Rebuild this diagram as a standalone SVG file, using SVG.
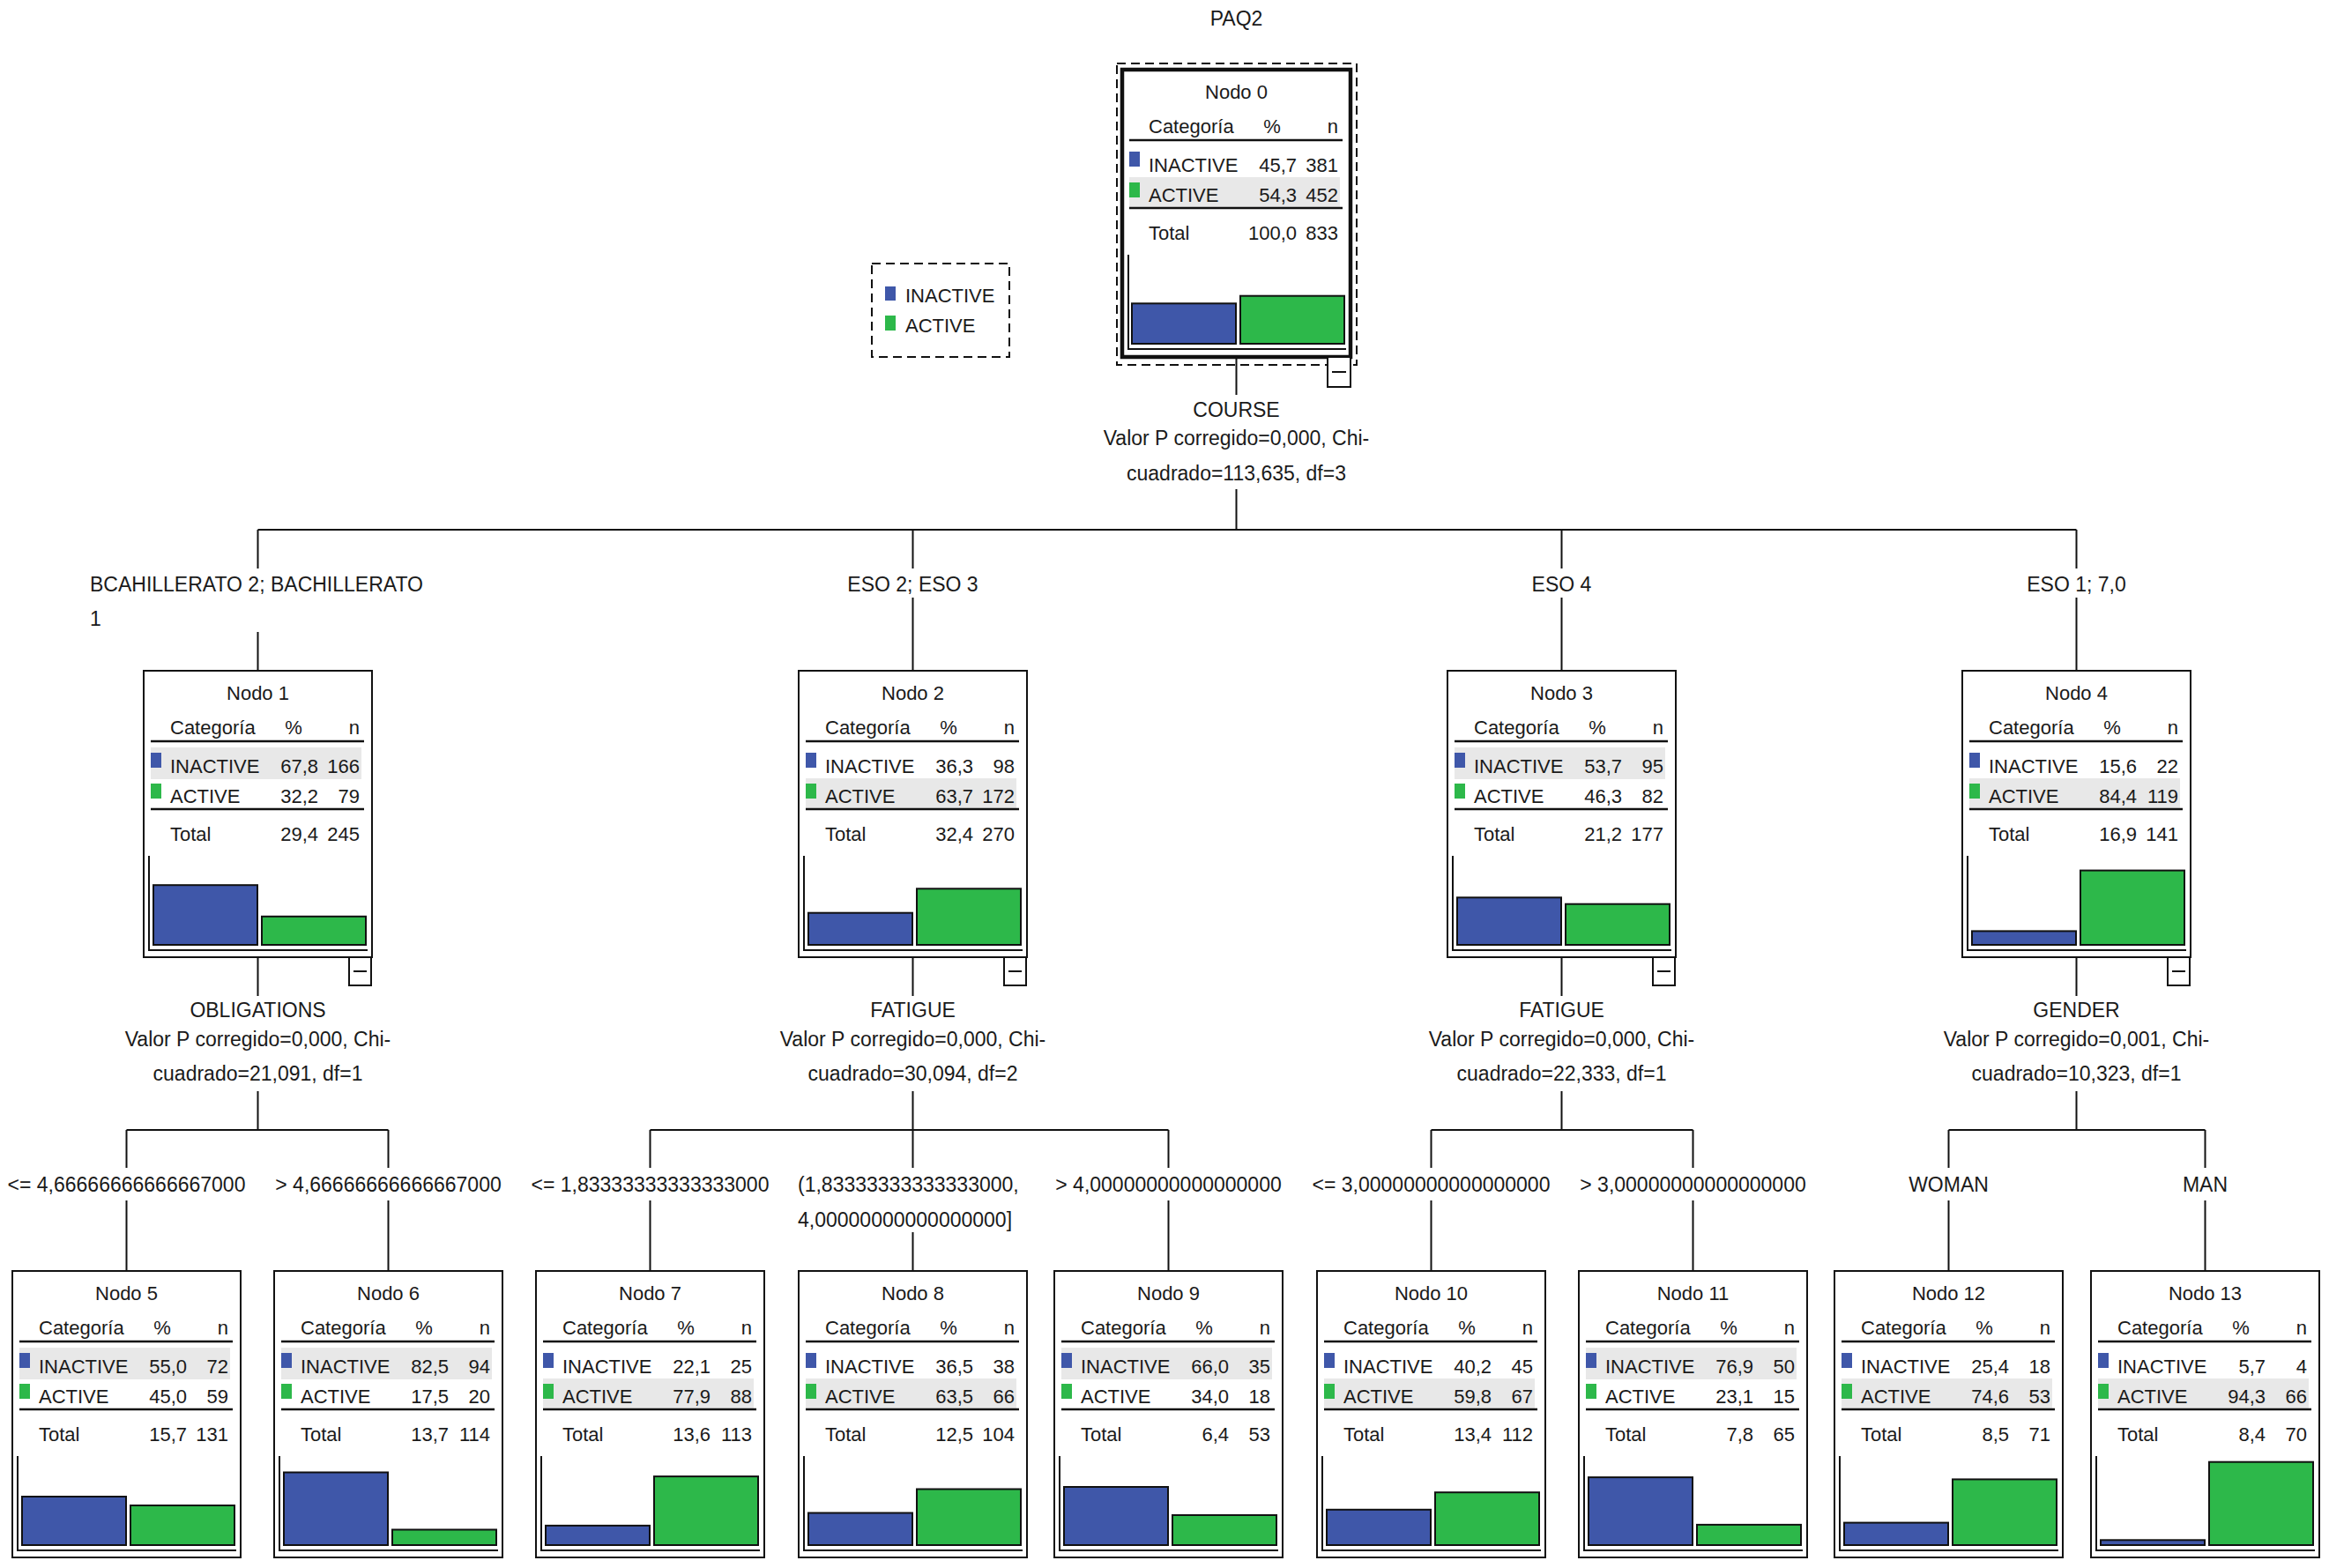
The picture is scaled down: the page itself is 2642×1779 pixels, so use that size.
<svg xmlns="http://www.w3.org/2000/svg" width="2642" height="1779" viewBox="0 0 2642 1779">
<style>
text{font-family:"Liberation Sans",Arial,sans-serif;font-size:22px;fill:#1a1a1a}
.l{font-size:23px}
.m{text-anchor:middle}
.e{text-anchor:end}
.box{fill:#fff;stroke:#111;stroke-width:2}
.rootbox{fill:#fff;stroke:#111;stroke-width:4.5}
.hl{stroke:#111;stroke-width:2.5}
.hi{fill:#e8e8e8}
.sqb{fill:#3f57a9}
.sqg{fill:#2db84a}
.ax{fill:none;stroke:#111;stroke-width:2}
.bb{fill:#3f57a9;stroke:#111;stroke-width:2}
.bg{fill:#2db84a;stroke:#111;stroke-width:2}
.cb{fill:#fff;stroke:#111;stroke-width:2}
.mn{stroke:#111;stroke-width:2}
.dash{fill:none;stroke:#111;stroke-width:2;stroke-dasharray:10 6}
.c line{stroke:#111;stroke-width:2}
</style>
<rect width="2642" height="1779" fill="#fff"/>
<text class="l m" x="1402.5" y="29">PAQ2</text>

<g id="legend">
<rect class="dash" x="989" y="299" width="156" height="106"/>
<rect class="sqb" x="1004" y="325" width="12" height="16"/>
<text x="1027" y="343">INACTIVE</text>
<rect class="sqg" x="1004" y="358" width="12" height="17"/>
<text x="1027" y="377">ACTIVE</text>
</g>

<g id="connectors" class="c">
<line x1="1402.5" y1="405" x2="1402.5" y2="448"/>
<line x1="1402.5" y1="555" x2="1402.5" y2="601"/>
<line x1="292.5" y1="601" x2="2355.5" y2="601"/>
<line x1="292.5" y1="601" x2="292.5" y2="645"/>
<line x1="292.5" y1="717" x2="292.5" y2="761"/>
<line x1="1035.5" y1="601" x2="1035.5" y2="645"/>
<line x1="1035.5" y1="678" x2="1035.5" y2="761"/>
<line x1="1771.5" y1="601" x2="1771.5" y2="645"/>
<line x1="1771.5" y1="678" x2="1771.5" y2="761"/>
<line x1="2355.5" y1="601" x2="2355.5" y2="645"/>
<line x1="2355.5" y1="678" x2="2355.5" y2="761"/>
<line x1="292.5" y1="1086" x2="292.5" y2="1130"/>
<line x1="292.5" y1="1238" x2="292.5" y2="1282"/>
<line x1="1035.5" y1="1086" x2="1035.5" y2="1130"/>
<line x1="1035.5" y1="1238" x2="1035.5" y2="1282"/>
<line x1="1771.5" y1="1086" x2="1771.5" y2="1130"/>
<line x1="1771.5" y1="1238" x2="1771.5" y2="1282"/>
<line x1="2355.5" y1="1086" x2="2355.5" y2="1130"/>
<line x1="2355.5" y1="1238" x2="2355.5" y2="1282"/>
<line x1="143.5" y1="1282" x2="440.5" y2="1282"/>
<line x1="737.5" y1="1282" x2="1325.5" y2="1282"/>
<line x1="1623.5" y1="1282" x2="1920.5" y2="1282"/>
<line x1="2210.5" y1="1282" x2="2501.5" y2="1282"/>
<line x1="143.5" y1="1282" x2="143.5" y2="1325"/><line x1="143.5" y1="1362" x2="143.5" y2="1442"/>
<line x1="440.5" y1="1282" x2="440.5" y2="1325"/><line x1="440.5" y1="1362" x2="440.5" y2="1442"/>
<line x1="737.5" y1="1282" x2="737.5" y2="1325"/><line x1="737.5" y1="1362" x2="737.5" y2="1442"/>
<line x1="1035.5" y1="1282" x2="1035.5" y2="1325"/><line x1="1035.5" y1="1398" x2="1035.5" y2="1442"/>
<line x1="1325.5" y1="1282" x2="1325.5" y2="1325"/><line x1="1325.5" y1="1362" x2="1325.5" y2="1442"/>
<line x1="1623.5" y1="1282" x2="1623.5" y2="1325"/><line x1="1623.5" y1="1362" x2="1623.5" y2="1442"/>
<line x1="1920.5" y1="1282" x2="1920.5" y2="1325"/><line x1="1920.5" y1="1362" x2="1920.5" y2="1442"/>
<line x1="2210.5" y1="1282" x2="2210.5" y2="1325"/><line x1="2210.5" y1="1362" x2="2210.5" y2="1442"/>
<line x1="2501.5" y1="1282" x2="2501.5" y2="1325"/><line x1="2501.5" y1="1362" x2="2501.5" y2="1442"/>
</g>

<g id="labels">
<text class="l m" x="1402.5" y="473">COURSE</text>
<text class="l m" x="1402.5" y="505">Valor P corregido=0,000, Chi-</text>
<text class="l m" x="1402.5" y="545">cuadrado=113,635, df=3</text>
<text class="l" x="102" y="671">BCAHILLERATO 2; BACHILLERATO</text>
<text class="l" x="102" y="710">1</text>
<text class="l m" x="1035.5" y="671">ESO 2; ESO 3</text>
<text class="l m" x="1771.5" y="671">ESO 4</text>
<text class="l m" x="2355.5" y="671">ESO 1; 7,0</text>
<text class="l m" x="292.5" y="1154">OBLIGATIONS</text>
<text class="l m" x="292.5" y="1187">Valor P corregido=0,000, Chi-</text>
<text class="l m" x="292.5" y="1226">cuadrado=21,091, df=1</text>
<text class="l m" x="1035.5" y="1154">FATIGUE</text>
<text class="l m" x="1035.5" y="1187">Valor P corregido=0,000, Chi-</text>
<text class="l m" x="1035.5" y="1226">cuadrado=30,094, df=2</text>
<text class="l m" x="1771.5" y="1154">FATIGUE</text>
<text class="l m" x="1771.5" y="1187">Valor P corregido=0,000, Chi-</text>
<text class="l m" x="1771.5" y="1226">cuadrado=22,333, df=1</text>
<text class="l m" x="2355.5" y="1154">GENDER</text>
<text class="l m" x="2355.5" y="1187">Valor P corregido=0,001, Chi-</text>
<text class="l m" x="2355.5" y="1226">cuadrado=10,323, df=1</text>
<text class="l m" x="143.5" y="1352">&lt;= 4,66666666666667000</text>
<text class="l m" x="440.5" y="1352">&gt; 4,66666666666667000</text>
<text class="l m" x="737.5" y="1352">&lt;= 1,83333333333333000</text>
<text class="l" x="905" y="1352">(1,83333333333333000,</text>
<text class="l" x="905" y="1392">4,00000000000000000]</text>
<text class="l m" x="1325.5" y="1352">&gt; 4,00000000000000000</text>
<text class="l m" x="1623.5" y="1352">&lt;= 3,00000000000000000</text>
<text class="l m" x="1920.5" y="1352">&gt; 3,00000000000000000</text>
<text class="l m" x="2210.5" y="1352">WOMAN</text>
<text class="l m" x="2501.5" y="1352">MAN</text>
</g>

<g id="node0" transform="translate(1273,79)">
<rect class="dash" x="-6" y="-7" width="272" height="342"/>
<rect class="rootbox" x="0" y="0" width="259" height="326"/>
<text class="m" x="129.5" y="33">Nodo 0</text>
<text x="30" y="72">Categoría</text><text class="m" x="170" y="72">%</text><text class="e" x="245" y="72">n</text>
<line class="hl" x1="8" y1="80" x2="250" y2="80"/>
<rect class="hi" x="8" y="122" width="239" height="34"/>
<rect class="sqb" x="8" y="93" width="12" height="17"/>
<text x="30" y="116">INACTIVE</text><text class="e" x="198" y="116">45,7</text><text class="e" x="245" y="116">381</text>
<rect class="sqg" x="8" y="128" width="12" height="17"/>
<text x="30" y="150">ACTIVE</text><text class="e" x="198" y="150">54,3</text><text class="e" x="245" y="150">452</text>
<line class="hl" x1="8" y1="157" x2="250" y2="157"/>
<text x="30" y="193">Total</text><text class="e" x="198" y="193">100,0</text><text class="e" x="245" y="193">833</text>
<path class="ax" d="M7,210 V317 H254"/>
<rect class="bb" x="11" y="265.3" width="118" height="45.7"/>
<rect class="bg" x="134" y="256.7" width="118" height="54.3"/>
<rect class="cb" x="233" y="326" width="26" height="34"/><line class="mn" x1="238" y1="343" x2="254" y2="343"/>
</g>

<g id="node1" transform="translate(163,761)">
<rect class="box" x="0" y="0" width="259" height="325"/>
<text class="m" x="129.5" y="33">Nodo 1</text>
<text x="30" y="72">Categoría</text><text class="m" x="170" y="72">%</text><text class="e" x="245" y="72">n</text>
<line class="hl" x1="8" y1="80" x2="250" y2="80"/>
<rect class="hi" x="8" y="87" width="239" height="36"/>
<rect class="sqb" x="8" y="93" width="12" height="17"/>
<text x="30" y="116">INACTIVE</text><text class="e" x="198" y="116">67,8</text><text class="e" x="245" y="116">166</text>
<rect class="sqg" x="8" y="128" width="12" height="17"/>
<text x="30" y="150">ACTIVE</text><text class="e" x="198" y="150">32,2</text><text class="e" x="245" y="150">79</text>
<line class="hl" x1="8" y1="157" x2="250" y2="157"/>
<text x="30" y="193">Total</text><text class="e" x="198" y="193">29,4</text><text class="e" x="245" y="193">245</text>
<path class="ax" d="M6,210 V317 H254"/>
<rect class="bb" x="11" y="243.2" width="118" height="67.8"/>
<rect class="bg" x="134" y="278.8" width="118" height="32.2"/>
<rect class="cb" x="233" y="325" width="25" height="32"/><line class="mn" x1="238" y1="341" x2="253" y2="341"/>
</g>

<g id="node2" transform="translate(906,761)">
<rect class="box" x="0" y="0" width="259" height="325"/>
<text class="m" x="129.5" y="33">Nodo 2</text>
<text x="30" y="72">Categoría</text><text class="m" x="170" y="72">%</text><text class="e" x="245" y="72">n</text>
<line class="hl" x1="8" y1="80" x2="250" y2="80"/>
<rect class="hi" x="8" y="122" width="239" height="34"/>
<rect class="sqb" x="8" y="93" width="12" height="17"/>
<text x="30" y="116">INACTIVE</text><text class="e" x="198" y="116">36,3</text><text class="e" x="245" y="116">98</text>
<rect class="sqg" x="8" y="128" width="12" height="17"/>
<text x="30" y="150">ACTIVE</text><text class="e" x="198" y="150">63,7</text><text class="e" x="245" y="150">172</text>
<line class="hl" x1="8" y1="157" x2="250" y2="157"/>
<text x="30" y="193">Total</text><text class="e" x="198" y="193">32,4</text><text class="e" x="245" y="193">270</text>
<path class="ax" d="M6,210 V317 H254"/>
<rect class="bb" x="11" y="274.7" width="118" height="36.3"/>
<rect class="bg" x="134" y="247.3" width="118" height="63.7"/>
<rect class="cb" x="233" y="325" width="25" height="32"/><line class="mn" x1="238" y1="341" x2="253" y2="341"/>
</g>

<g id="node3" transform="translate(1642,761)">
<rect class="box" x="0" y="0" width="259" height="325"/>
<text class="m" x="129.5" y="33">Nodo 3</text>
<text x="30" y="72">Categoría</text><text class="m" x="170" y="72">%</text><text class="e" x="245" y="72">n</text>
<line class="hl" x1="8" y1="80" x2="250" y2="80"/>
<rect class="hi" x="8" y="87" width="239" height="36"/>
<rect class="sqb" x="8" y="93" width="12" height="17"/>
<text x="30" y="116">INACTIVE</text><text class="e" x="198" y="116">53,7</text><text class="e" x="245" y="116">95</text>
<rect class="sqg" x="8" y="128" width="12" height="17"/>
<text x="30" y="150">ACTIVE</text><text class="e" x="198" y="150">46,3</text><text class="e" x="245" y="150">82</text>
<line class="hl" x1="8" y1="157" x2="250" y2="157"/>
<text x="30" y="193">Total</text><text class="e" x="198" y="193">21,2</text><text class="e" x="245" y="193">177</text>
<path class="ax" d="M6,210 V317 H254"/>
<rect class="bb" x="11" y="257.3" width="118" height="53.7"/>
<rect class="bg" x="134" y="264.7" width="118" height="46.3"/>
<rect class="cb" x="233" y="325" width="25" height="32"/><line class="mn" x1="238" y1="341" x2="253" y2="341"/>
</g>

<g id="node4" transform="translate(2226,761)">
<rect class="box" x="0" y="0" width="259" height="325"/>
<text class="m" x="129.5" y="33">Nodo 4</text>
<text x="30" y="72">Categoría</text><text class="m" x="170" y="72">%</text><text class="e" x="245" y="72">n</text>
<line class="hl" x1="8" y1="80" x2="250" y2="80"/>
<rect class="hi" x="8" y="122" width="239" height="34"/>
<rect class="sqb" x="8" y="93" width="12" height="17"/>
<text x="30" y="116">INACTIVE</text><text class="e" x="198" y="116">15,6</text><text class="e" x="245" y="116">22</text>
<rect class="sqg" x="8" y="128" width="12" height="17"/>
<text x="30" y="150">ACTIVE</text><text class="e" x="198" y="150">84,4</text><text class="e" x="245" y="150">119</text>
<line class="hl" x1="8" y1="157" x2="250" y2="157"/>
<text x="30" y="193">Total</text><text class="e" x="198" y="193">16,9</text><text class="e" x="245" y="193">141</text>
<path class="ax" d="M6,210 V317 H254"/>
<rect class="bb" x="11" y="295.4" width="118" height="15.6"/>
<rect class="bg" x="134" y="226.6" width="118" height="84.4"/>
<rect class="cb" x="233" y="325" width="25" height="32"/><line class="mn" x1="238" y1="341" x2="253" y2="341"/>
</g>

<g id="node5" transform="translate(14,1442)">
<rect class="box" x="0" y="0" width="259" height="325"/>
<text class="m" x="129.5" y="33">Nodo 5</text>
<text x="30" y="72">Categoría</text><text class="m" x="170" y="72">%</text><text class="e" x="245" y="72">n</text>
<line class="hl" x1="8" y1="80" x2="250" y2="80"/>
<rect class="hi" x="8" y="87" width="239" height="36"/>
<rect class="sqb" x="8" y="93" width="12" height="17"/>
<text x="30" y="116">INACTIVE</text><text class="e" x="198" y="116">55,0</text><text class="e" x="245" y="116">72</text>
<rect class="sqg" x="8" y="128" width="12" height="17"/>
<text x="30" y="150">ACTIVE</text><text class="e" x="198" y="150">45,0</text><text class="e" x="245" y="150">59</text>
<line class="hl" x1="8" y1="157" x2="250" y2="157"/>
<text x="30" y="193">Total</text><text class="e" x="198" y="193">15,7</text><text class="e" x="245" y="193">131</text>
<path class="ax" d="M6,210 V317 H254"/>
<rect class="bb" x="11" y="256" width="118" height="55"/>
<rect class="bg" x="134" y="266" width="118" height="45"/>
</g>

<g id="node6" transform="translate(311,1442)">
<rect class="box" x="0" y="0" width="259" height="325"/>
<text class="m" x="129.5" y="33">Nodo 6</text>
<text x="30" y="72">Categoría</text><text class="m" x="170" y="72">%</text><text class="e" x="245" y="72">n</text>
<line class="hl" x1="8" y1="80" x2="250" y2="80"/>
<rect class="hi" x="8" y="87" width="239" height="36"/>
<rect class="sqb" x="8" y="93" width="12" height="17"/>
<text x="30" y="116">INACTIVE</text><text class="e" x="198" y="116">82,5</text><text class="e" x="245" y="116">94</text>
<rect class="sqg" x="8" y="128" width="12" height="17"/>
<text x="30" y="150">ACTIVE</text><text class="e" x="198" y="150">17,5</text><text class="e" x="245" y="150">20</text>
<line class="hl" x1="8" y1="157" x2="250" y2="157"/>
<text x="30" y="193">Total</text><text class="e" x="198" y="193">13,7</text><text class="e" x="245" y="193">114</text>
<path class="ax" d="M6,210 V317 H254"/>
<rect class="bb" x="11" y="228.5" width="118" height="82.5"/>
<rect class="bg" x="134" y="293.5" width="118" height="17.5"/>
</g>

<g id="node7" transform="translate(608,1442)">
<rect class="box" x="0" y="0" width="259" height="325"/>
<text class="m" x="129.5" y="33">Nodo 7</text>
<text x="30" y="72">Categoría</text><text class="m" x="170" y="72">%</text><text class="e" x="245" y="72">n</text>
<line class="hl" x1="8" y1="80" x2="250" y2="80"/>
<rect class="hi" x="8" y="122" width="239" height="34"/>
<rect class="sqb" x="8" y="93" width="12" height="17"/>
<text x="30" y="116">INACTIVE</text><text class="e" x="198" y="116">22,1</text><text class="e" x="245" y="116">25</text>
<rect class="sqg" x="8" y="128" width="12" height="17"/>
<text x="30" y="150">ACTIVE</text><text class="e" x="198" y="150">77,9</text><text class="e" x="245" y="150">88</text>
<line class="hl" x1="8" y1="157" x2="250" y2="157"/>
<text x="30" y="193">Total</text><text class="e" x="198" y="193">13,6</text><text class="e" x="245" y="193">113</text>
<path class="ax" d="M6,210 V317 H254"/>
<rect class="bb" x="11" y="288.9" width="118" height="22.1"/>
<rect class="bg" x="134" y="233.1" width="118" height="77.9"/>
</g>

<g id="node8" transform="translate(906,1442)">
<rect class="box" x="0" y="0" width="259" height="325"/>
<text class="m" x="129.5" y="33">Nodo 8</text>
<text x="30" y="72">Categoría</text><text class="m" x="170" y="72">%</text><text class="e" x="245" y="72">n</text>
<line class="hl" x1="8" y1="80" x2="250" y2="80"/>
<rect class="hi" x="8" y="122" width="239" height="34"/>
<rect class="sqb" x="8" y="93" width="12" height="17"/>
<text x="30" y="116">INACTIVE</text><text class="e" x="198" y="116">36,5</text><text class="e" x="245" y="116">38</text>
<rect class="sqg" x="8" y="128" width="12" height="17"/>
<text x="30" y="150">ACTIVE</text><text class="e" x="198" y="150">63,5</text><text class="e" x="245" y="150">66</text>
<line class="hl" x1="8" y1="157" x2="250" y2="157"/>
<text x="30" y="193">Total</text><text class="e" x="198" y="193">12,5</text><text class="e" x="245" y="193">104</text>
<path class="ax" d="M6,210 V317 H254"/>
<rect class="bb" x="11" y="274.5" width="118" height="36.5"/>
<rect class="bg" x="134" y="247.5" width="118" height="63.5"/>
</g>

<g id="node9" transform="translate(1196,1442)">
<rect class="box" x="0" y="0" width="259" height="325"/>
<text class="m" x="129.5" y="33">Nodo 9</text>
<text x="30" y="72">Categoría</text><text class="m" x="170" y="72">%</text><text class="e" x="245" y="72">n</text>
<line class="hl" x1="8" y1="80" x2="250" y2="80"/>
<rect class="hi" x="8" y="87" width="239" height="36"/>
<rect class="sqb" x="8" y="93" width="12" height="17"/>
<text x="30" y="116">INACTIVE</text><text class="e" x="198" y="116">66,0</text><text class="e" x="245" y="116">35</text>
<rect class="sqg" x="8" y="128" width="12" height="17"/>
<text x="30" y="150">ACTIVE</text><text class="e" x="198" y="150">34,0</text><text class="e" x="245" y="150">18</text>
<line class="hl" x1="8" y1="157" x2="250" y2="157"/>
<text x="30" y="193">Total</text><text class="e" x="198" y="193">6,4</text><text class="e" x="245" y="193">53</text>
<path class="ax" d="M6,210 V317 H254"/>
<rect class="bb" x="11" y="245" width="118" height="66"/>
<rect class="bg" x="134" y="277" width="118" height="34"/>
</g>

<g id="node10" transform="translate(1494,1442)">
<rect class="box" x="0" y="0" width="259" height="325"/>
<text class="m" x="129.5" y="33">Nodo 10</text>
<text x="30" y="72">Categoría</text><text class="m" x="170" y="72">%</text><text class="e" x="245" y="72">n</text>
<line class="hl" x1="8" y1="80" x2="250" y2="80"/>
<rect class="hi" x="8" y="122" width="239" height="34"/>
<rect class="sqb" x="8" y="93" width="12" height="17"/>
<text x="30" y="116">INACTIVE</text><text class="e" x="198" y="116">40,2</text><text class="e" x="245" y="116">45</text>
<rect class="sqg" x="8" y="128" width="12" height="17"/>
<text x="30" y="150">ACTIVE</text><text class="e" x="198" y="150">59,8</text><text class="e" x="245" y="150">67</text>
<line class="hl" x1="8" y1="157" x2="250" y2="157"/>
<text x="30" y="193">Total</text><text class="e" x="198" y="193">13,4</text><text class="e" x="245" y="193">112</text>
<path class="ax" d="M6,210 V317 H254"/>
<rect class="bb" x="11" y="270.8" width="118" height="40.2"/>
<rect class="bg" x="134" y="251.2" width="118" height="59.8"/>
</g>

<g id="node11" transform="translate(1791,1442)">
<rect class="box" x="0" y="0" width="259" height="325"/>
<text class="m" x="129.5" y="33">Nodo 11</text>
<text x="30" y="72">Categoría</text><text class="m" x="170" y="72">%</text><text class="e" x="245" y="72">n</text>
<line class="hl" x1="8" y1="80" x2="250" y2="80"/>
<rect class="hi" x="8" y="87" width="239" height="36"/>
<rect class="sqb" x="8" y="93" width="12" height="17"/>
<text x="30" y="116">INACTIVE</text><text class="e" x="198" y="116">76,9</text><text class="e" x="245" y="116">50</text>
<rect class="sqg" x="8" y="128" width="12" height="17"/>
<text x="30" y="150">ACTIVE</text><text class="e" x="198" y="150">23,1</text><text class="e" x="245" y="150">15</text>
<line class="hl" x1="8" y1="157" x2="250" y2="157"/>
<text x="30" y="193">Total</text><text class="e" x="198" y="193">7,8</text><text class="e" x="245" y="193">65</text>
<path class="ax" d="M6,210 V317 H254"/>
<rect class="bb" x="11" y="234.1" width="118" height="76.9"/>
<rect class="bg" x="134" y="287.9" width="118" height="23.1"/>
</g>

<g id="node12" transform="translate(2081,1442)">
<rect class="box" x="0" y="0" width="259" height="325"/>
<text class="m" x="129.5" y="33">Nodo 12</text>
<text x="30" y="72">Categoría</text><text class="m" x="170" y="72">%</text><text class="e" x="245" y="72">n</text>
<line class="hl" x1="8" y1="80" x2="250" y2="80"/>
<rect class="hi" x="8" y="122" width="239" height="34"/>
<rect class="sqb" x="8" y="93" width="12" height="17"/>
<text x="30" y="116">INACTIVE</text><text class="e" x="198" y="116">25,4</text><text class="e" x="245" y="116">18</text>
<rect class="sqg" x="8" y="128" width="12" height="17"/>
<text x="30" y="150">ACTIVE</text><text class="e" x="198" y="150">74,6</text><text class="e" x="245" y="150">53</text>
<line class="hl" x1="8" y1="157" x2="250" y2="157"/>
<text x="30" y="193">Total</text><text class="e" x="198" y="193">8,5</text><text class="e" x="245" y="193">71</text>
<path class="ax" d="M6,210 V317 H254"/>
<rect class="bb" x="11" y="285.6" width="118" height="25.4"/>
<rect class="bg" x="134" y="236.4" width="118" height="74.6"/>
</g>

<g id="node13" transform="translate(2372,1442)">
<rect class="box" x="0" y="0" width="259" height="325"/>
<text class="m" x="129.5" y="33">Nodo 13</text>
<text x="30" y="72">Categoría</text><text class="m" x="170" y="72">%</text><text class="e" x="245" y="72">n</text>
<line class="hl" x1="8" y1="80" x2="250" y2="80"/>
<rect class="hi" x="8" y="122" width="239" height="34"/>
<rect class="sqb" x="8" y="93" width="12" height="17"/>
<text x="30" y="116">INACTIVE</text><text class="e" x="198" y="116">5,7</text><text class="e" x="245" y="116">4</text>
<rect class="sqg" x="8" y="128" width="12" height="17"/>
<text x="30" y="150">ACTIVE</text><text class="e" x="198" y="150">94,3</text><text class="e" x="245" y="150">66</text>
<line class="hl" x1="8" y1="157" x2="250" y2="157"/>
<text x="30" y="193">Total</text><text class="e" x="198" y="193">8,4</text><text class="e" x="245" y="193">70</text>
<path class="ax" d="M6,210 V317 H254"/>
<rect class="bb" x="11" y="305.3" width="118" height="5.7"/>
<rect class="bg" x="134" y="216.7" width="118" height="94.3"/>
</g>
</svg>
